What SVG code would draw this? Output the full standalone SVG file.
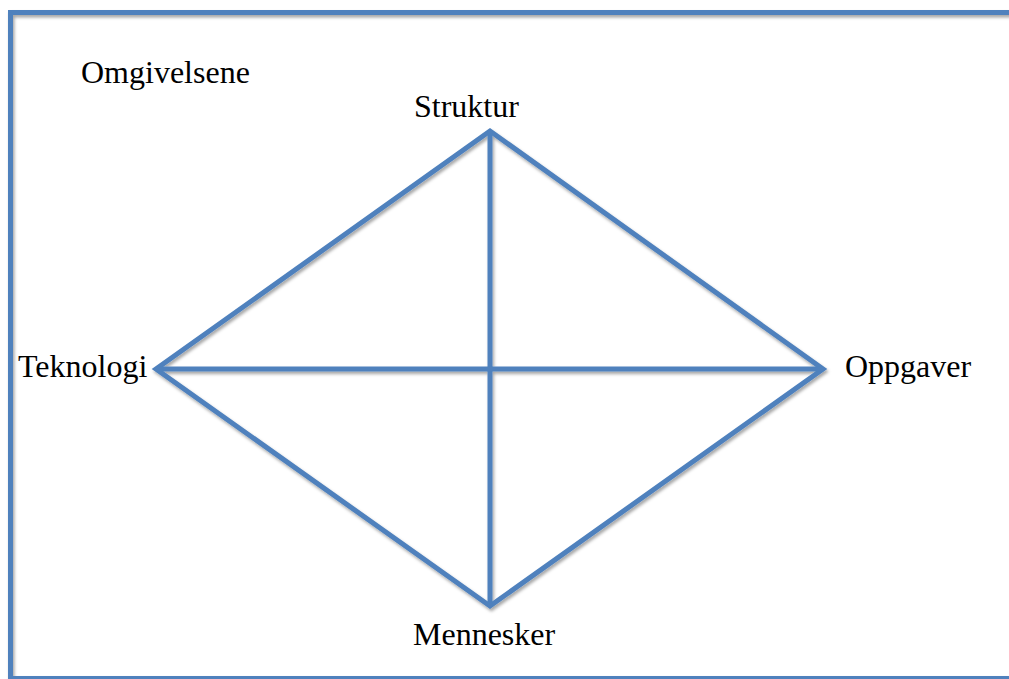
<svg xmlns="http://www.w3.org/2000/svg" width="1009" height="679" viewBox="0 0 1009 679">
<style>
.ln{stroke:#4F81BD;stroke-width:5;fill:none;stroke-linecap:butt;stroke-linejoin:miter}
.t{font-family:"Liberation Serif","Times New Roman",serif;font-size:32px;fill:#000}
</style>
<defs>
<filter id="sh" x="-5%" y="-5%" width="110%" height="110%">
<feDropShadow dx="1.5" dy="2.5" stdDeviation="1.8" flood-color="#000" flood-opacity="0.35"/>
</filter>
</defs>
<rect width="1009" height="679" fill="#fff"/>
<g id="frame" filter="url(#sh)">
<rect class="ln" x="10.5" y="12.5" width="1010" height="666"/>
</g>
<g id="connectors" filter="url(#sh)">
<path class="ln" d="M490,131 L156,369 L490,606 L823,369 Z"/>
<line class="ln" x1="490" y1="131" x2="490" y2="606"/>
<line class="ln" x1="156" y1="369" x2="823" y2="369"/>
</g>
<g id="omgivelsene"><text class="t" x="81" y="83">Omgivelsene</text></g>
<g id="struktur"><text class="t" x="414" y="117">Struktur</text></g>
<g id="teknologi"><text class="t" x="18" y="377">Teknologi</text></g>
<g id="oppgaver"><text class="t" x="845" y="377">Oppgaver</text></g>
<g id="mennesker"><text class="t" x="413" y="645">Mennesker</text></g>
</svg>
